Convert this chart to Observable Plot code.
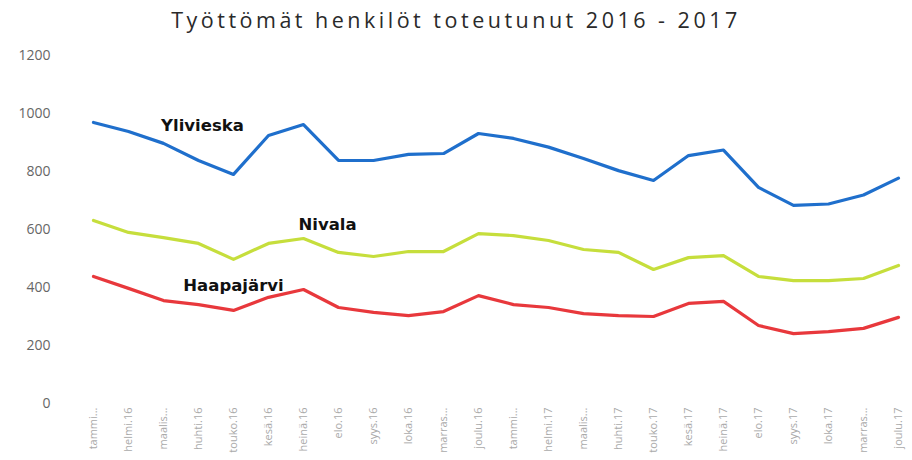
<!DOCTYPE html>
<html>
<head>
<meta charset="utf-8">
<script src="https://cdn.jsdelivr.net/npm/d3@7"></script>
<script src="https://cdn.jsdelivr.net/npm/@observablehq/plot@0.6"></script>
<style>
  html, body { margin: 0; padding: 0; background: #fff; }
  #title { height: 38px; line-height: 40px; text-align: center; font-family: "Open Sans", sans-serif; font-size: 21.5px; letter-spacing: 3.5px; color: #2a2a2a; width: 912px; }
</style>
</head>
<body>
<div id="title">Työttömät henkilöt toteutunut 2016 - 2017</div>
<div id="chart"></div>
<script>
const months = ["tammi.16","helmi.16","maalis.16","huhti.16","touko.16","kesä.16","heinä.16","elo.16","syys.16","loka.16","marras.16","joulu.16",
                "tammi.17","helmi.17","maalis.17","huhti.17","touko.17","kesä.17","heinä.17","elo.17","syys.17","loka.17","marras.17","joulu.17"];
const tickLabels = ["tammi...","helmi.16","maalis...","huhti.16","touko.16","kesä.16","heinä.16","elo.16","syys.16","loka.16","marras...","joulu.16",
                    "tammi...","helmi.17","maalis...","huhti.17","touko.17","kesä.17","heinä.17","elo.17","syys.17","loka.17","marras...","joulu.17"];
const ylivieska = [969,938,897,838,790,924,962,838,838,859,862,931,914,884,845,803,769,855,874,745,683,688,719,777];
const nivala    = [631,590,572,552,497,552,569,521,507,524,524,586,579,562,531,521,462,503,510,438,424,424,431,476];
const haapajarvi= [438,397,355,341,321,366,393,331,314,303,317,372,341,331,310,303,300,345,352,269,241,248,259,297];
const seriesNames = ["Ylivieska","Nivala","Haapajärvi"];
const seriesColors = ["#1f6fcc","#c6de3c","#e8383c"];
const yTicks = [0,200,400,600,800,1000,1200];
// label anchor month index per series
const labelAnchor = [3,7,4];

const seriesValues = [ylivieska, nivala, haapajarvi];
const data = seriesNames.flatMap((name, s) => seriesValues[s].map((v, i) => ({name, month: months[i], value: v})));
const labels = seriesNames.map((name, s) => ({name, month: months[labelAnchor[s]], value: seriesValues[s][labelAnchor[s]]}));
const labelOffsets = {"Ylivieska": [4,-35], "Nivala": [-11,-28], "Haapajärvi": [0,-25]};

const fmt = d => String(d);

const plot = Plot.plot({
  width: 912,
  height: 422,
  marginLeft: 84,
  marginRight: 6,
  marginTop: 17,
  marginBottom: 57,
  style: {fontFamily: "Open Sans, sans-serif", background: "#fff"},
  x: {type: "point", domain: months, padding: 0, label: null},
  y: {domain: [0, 1200], label: null},
  color: {domain: seriesNames, range: seriesColors},
  marks: [
    Plot.axisY({ticks: yTicks, tickSize: 0, tickPadding: 34, tickFormat: fmt, fontSize: 14, fill: "#666", label: null}),
    Plot.axisX({tickSize: 0, tickRotate: -90, tickPadding: 4, tickFormat: (d, i) => tickLabels[months.indexOf(d)], fontSize: 11, fill: "#aaa", label: null}),
    Plot.line(data, {x: "month", y: "value", z: "name", stroke: "name", strokeWidth: 3.2, strokeLinejoin: "round"}),
    ...labels.map(l => Plot.text([l], {x: "month", y: "value", text: "name", dx: labelOffsets[l.name][0], dy: labelOffsets[l.name][1], fontSize: 16.5, fontWeight: "bold", fill: "#111", fontFamily: "DejaVu Sans, sans-serif", style: "letter-spacing:0.6px"}))
  ]
});
document.getElementById("chart").appendChild(plot);
</script>
</body>
</html>
